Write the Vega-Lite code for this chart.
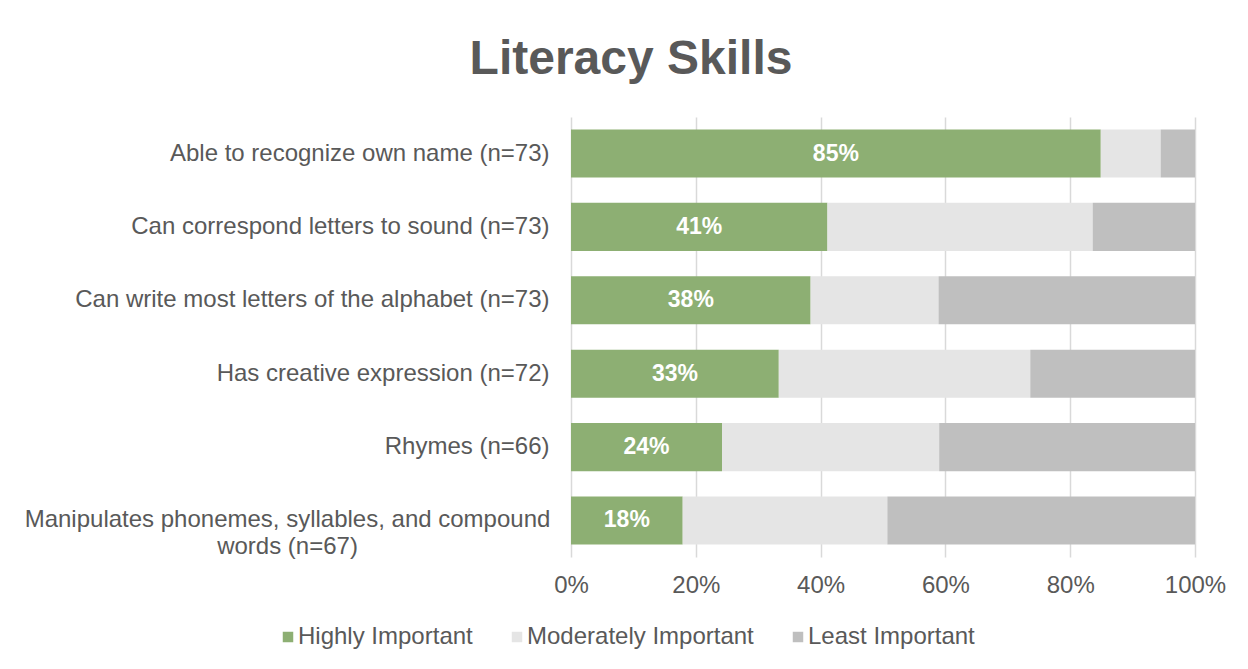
{
  "$schema": "https://vega.github.io/schema/vega-lite/v6.json",
  "width": 624,
  "height": 440,
  "autosize": {"type": "none"},
  "padding": {"left": 571, "top": 117, "right": 53, "bottom": 112},
  "background": "white",
  "title": {
    "text": "Literacy Skills",
    "anchor": "middle",
    "frame": "group",
    "dx": -252,
    "offset": -5,
    "baseline": "alphabetic",
    "fontSize": 48,
    "fontWeight": "bold",
    "font": "Liberation Sans",
    "color": "#595959"
  },
  "data": {
    "values": [
      {"skill": "Able to recognize own name (n=73)", "cat": "Highly Important", "pct": 84.9},
      {"skill": "Able to recognize own name (n=73)", "cat": "Moderately Important", "pct": 9.6},
      {"skill": "Able to recognize own name (n=73)", "cat": "Least Important", "pct": 5.5},
      {"skill": "Can correspond letters to sound (n=73)", "cat": "Highly Important", "pct": 41.1},
      {"skill": "Can correspond letters to sound (n=73)", "cat": "Moderately Important", "pct": 42.5},
      {"skill": "Can correspond letters to sound (n=73)", "cat": "Least Important", "pct": 16.4},
      {"skill": "Can write most letters of the alphabet (n=73)", "cat": "Highly Important", "pct": 38.4},
      {"skill": "Can write most letters of the alphabet (n=73)", "cat": "Moderately Important", "pct": 20.5},
      {"skill": "Can write most letters of the alphabet (n=73)", "cat": "Least Important", "pct": 41.1},
      {"skill": "Has creative expression (n=72)", "cat": "Highly Important", "pct": 33.3},
      {"skill": "Has creative expression (n=72)", "cat": "Moderately Important", "pct": 40.3},
      {"skill": "Has creative expression (n=72)", "cat": "Least Important", "pct": 26.4},
      {"skill": "Rhymes (n=66)", "cat": "Highly Important", "pct": 24.2},
      {"skill": "Rhymes (n=66)", "cat": "Moderately Important", "pct": 34.8},
      {"skill": "Rhymes (n=66)", "cat": "Least Important", "pct": 41.0},
      {"skill": "Manipulates phonemes, syllables, and compound words (n=67)", "cat": "Highly Important", "pct": 17.9},
      {"skill": "Manipulates phonemes, syllables, and compound words (n=67)", "cat": "Moderately Important", "pct": 32.8},
      {"skill": "Manipulates phonemes, syllables, and compound words (n=67)", "cat": "Least Important", "pct": 49.3}
    ]
  },
  "transform": [
    {"calculate": "indexof(['Highly Important','Moderately Important','Least Important'], datum.cat)", "as": "rank"},
    {"stack": "pct", "groupby": ["skill"], "sort": [{"field": "rank", "order": "ascending"}], "as": ["p0", "p1"]},
    {"calculate": "(datum.p0 + datum.p1) / 2", "as": "mid"},
    {"calculate": "format(datum.pct, '.0f') + '%'", "as": "lbl"}
  ],
  "encoding": {
    "y": {
      "field": "skill",
      "type": "nominal",
      "sort": null,
      "title": null,
      "scale": {"paddingInner": 0.345, "paddingOuter": 0.17},
      "axis": {
        "ticks": false,
        "domain": false,
        "labelAlign": {"condition": {"test": "datum.value == 'Manipulates phonemes, syllables, and compound words (n=67)'", "value": "center"}, "value": "right"},
        "labelPadding": {"condition": {"test": "datum.value == 'Manipulates phonemes, syllables, and compound words (n=67)'", "value": 284}, "value": 22},
        "labelFontSize": 24,
        "labelFont": "Liberation Sans",
        "labelColor": "#595959",
        "labelLimit": 700,
        "labelLineHeight": 27,
        "labelExpr": "datum.value == 'Manipulates phonemes, syllables, and compound words (n=67)' ? ['Manipulates phonemes, syllables, and compound', 'words (n=67)'] : datum.value"
      }
    }
  },
  "layer": [
    {
      "mark": {"type": "bar"},
      "encoding": {
        "x": {
          "field": "p0",
          "type": "quantitative",
          "scale": {"domain": [0, 100], "nice": false},
          "title": null,
          "axis": {
            "values": [0, 20, 40, 60, 80, 100],
            "labelExpr": "datum.value + '%'",
            "ticks": false,
            "domain": false,
            "grid": true,
            "gridColor": "#d9d9d9",
            "gridWidth": 1.5,
            "labelPadding": 16,
            "labelFontSize": 24,
            "labelFont": "Liberation Sans",
            "labelColor": "#595959",
            "labelFlush": false
          }
        },
        "x2": {"field": "p1"},
        "color": {
          "field": "cat",
          "type": "nominal",
          "title": null,
          "scale": {
            "domain": ["Highly Important", "Moderately Important", "Least Important"],
            "range": ["#8daf73", "#e5e5e5", "#bfbfbf"]
          },
          "legend": {
            "orient": "none",
            "direction": "horizontal",
            "legendX": -295,
            "legendY": 508,
            "symbolType": "square",
            "symbolSize": 110,
            "symbolStrokeWidth": 0,
            "labelFontSize": 24,
            "labelFont": "Liberation Sans",
            "labelColor": "#595959",
            "labelLimit": 400,
            "labelOffset": -2,
            "columnPadding": 32
          }
        }
      }
    },
    {
      "transform": [{"filter": "datum.cat == 'Highly Important'"}],
      "mark": {"type": "text", "color": "white", "fontWeight": "bold", "fontSize": 23, "font": "Liberation Sans", "baseline": "middle"},
      "encoding": {
        "x": {"field": "mid", "type": "quantitative"},
        "text": {"field": "lbl", "type": "nominal"}
      }
    }
  ],
  "config": {
    "view": {"stroke": null}
  }
}
